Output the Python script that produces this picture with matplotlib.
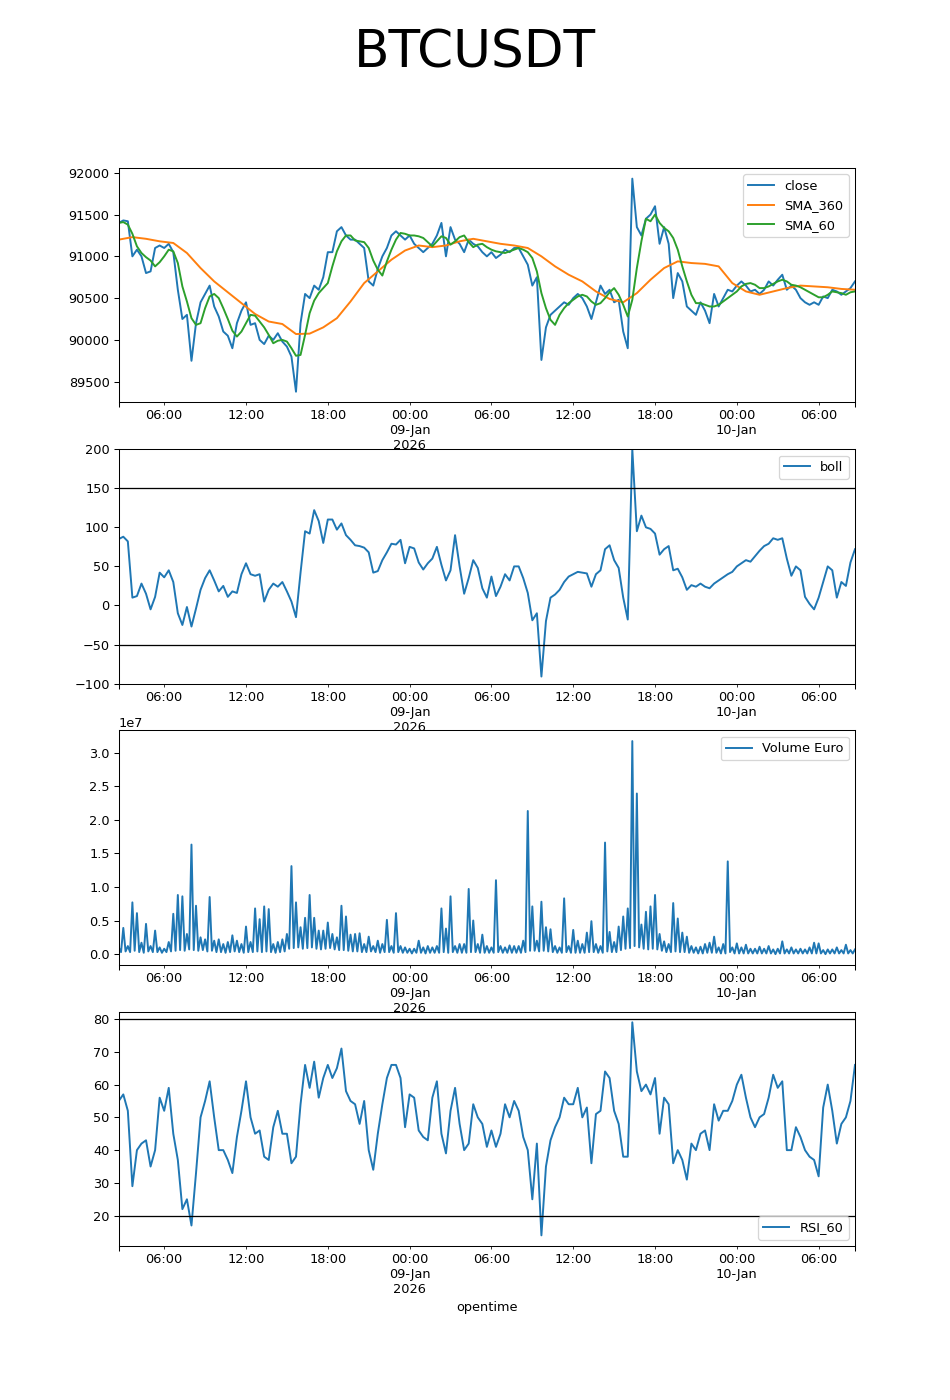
import numpy as np
import pandas as pd
import matplotlib
matplotlib.use('Agg')
import matplotlib.pyplot as plt
import matplotlib.dates as mdates

# valori, un punto ogni 20 minuti a partire da qui
start = '2026-01-08 02:40'

close = [91400, 91430, 91420, 91000, 91080, 91000, 90800, 90820, 91100, 91130,
         91100, 91150, 91050, 90600, 90250, 90300, 89750, 90200, 90450, 90550,
         90650, 90400, 90280, 90100, 90050, 89900, 90200, 90350, 90450, 90180,
         90200, 90000, 89950, 90050, 90000, 90080, 89980, 89920, 89800, 89380,
         90200, 90550, 90500, 90650, 90600, 90750, 91050, 91050, 91300, 91350,
         91250, 91200, 91200, 91150, 91100, 90700, 90650, 90850, 91000, 91100,
         91250, 91300, 91250, 91200, 91250, 91150, 91100, 91050, 91100, 91150,
         91250, 91400, 91000, 91350, 91200, 91150, 91050, 91200, 91150, 91120,
         91050, 91000, 91050, 90980, 91020, 91080, 91050, 91100, 91100, 91000,
         90900, 90650, 90750, 89760, 90150, 90300, 90350, 90400, 90450, 90420,
         90500, 90550, 90500, 90400, 90250, 90450, 90650, 90550, 90600, 90450,
         90480, 90100, 89900, 91930, 91350, 91250, 91450, 91500, 91600, 91150,
         91350, 91150, 90500, 90800, 90700, 90400, 90350, 90300, 90450, 90350,
         90200, 90550, 90400, 90500, 90600, 90580, 90650, 90700, 90650, 90580,
         90600, 90550, 90600, 90700, 90650, 90720, 90780, 90600, 90650, 90600,
         90500, 90450, 90420, 90450, 90420, 90520, 90500, 90600, 90580, 90540,
         90580, 90620, 90700]

sma_60 = [91400, 91410, 91380, 91270, 91120, 91040, 90990, 90950, 90880, 90930,
          91000, 91080, 91060, 90920, 90640, 90460, 90260, 90180, 90200, 90380,
          90520, 90550, 90500, 90380, 90250, 90110, 90040, 90100, 90200, 90300,
          90290, 90220, 90150, 90060, 89960, 89990, 90000, 89980, 89900, 89810,
          89820, 90060, 90320, 90470, 90560, 90620, 90680, 90880, 91060, 91180,
          91250, 91250, 91190, 91180, 91170, 91100, 90950, 90840, 90770, 90940,
          91080, 91200, 91280, 91270, 91250, 91250, 91240, 91220, 91170, 91120,
          91180, 91240, 91220, 91140, 91180, 91230, 91250, 91170, 91110, 91140,
          91150, 91110, 91080, 91060, 91050, 91040, 91060, 91080, 91100, 91080,
          91050, 90980, 90820, 90560, 90380, 90240, 90180, 90300, 90380, 90440,
          90480, 90520, 90540, 90520, 90460, 90420, 90440, 90500, 90570, 90620,
          90540, 90420, 90280, 90480, 90860, 91180, 91450, 91420, 91500, 91400,
          91340, 91300, 91220, 91080, 90880, 90700, 90540, 90440, 90440, 90420,
          90400, 90400, 90420, 90460, 90500, 90540, 90580, 90640, 90670, 90680,
          90660, 90620, 90620, 90640, 90670, 90700, 90720, 90700, 90660, 90650,
          90630, 90600, 90570, 90540, 90510, 90510, 90540, 90580, 90570, 90560,
          90540, 90570, 90580]

# SMA_360: un punto ogni ora
sma_360 = [91200, 91230, 91210, 91180, 91160, 91040, 90860, 90700, 90570, 90440,
           90310, 90220, 90190, 90070, 90075, 90150, 90260, 90460, 90680, 90820,
           90960, 91070, 91130, 91110, 91130, 91180, 91210, 91180, 91150, 91130,
           91100, 91000, 90880, 90780, 90700, 90580, 90490, 90450, 90560, 90720,
           90860, 90940, 90920, 90910, 90880, 90680, 90580, 90540, 90580, 90620,
           90650, 90640, 90630, 90610, 90600]

boll = [85, 88, 82, 10, 12, 28, 15, -5, 11, 42,
        36, 45, 30, -10, -25, -2, -27, -4, 20, 35,
        45, 32, 18, 25, 11, 18, 16, 40, 54, 40,
        38, 40, 5, 20, 28, 24, 30, 18, 5, -15,
        42, 95, 92, 122, 108, 80, 110, 110, 97, 105,
        90, 84, 77, 76, 74, 68, 42, 44, 58, 68,
        79, 78, 84, 54, 75, 73, 55, 46, 54, 60,
        75, 52, 32, 45, 90, 50, 15, 35, 58, 48,
        22, 10, 37, 12, 24, 40, 32, 50, 50, 35,
        16, -19, -10, -91, -20, 10, 14, 20, 30, 37,
        40, 43, 42, 41, 24, 40, 45, 72, 77, 58,
        48, 10, -18, 200, 95, 115, 100, 98, 92, 65,
        72, 76, 45, 47, 36, 20, 26, 24, 28, 24,
        22, 28, 32, 36, 40, 43, 50, 54, 58, 56,
        63, 70, 76, 79, 86, 84, 86, 60, 38, 50,
        45, 11, 2, -5, 10, 30, 50, 45, 10, 30,
        25, 55, 72]

rsi_60 = [55, 57, 52, 29, 40, 42, 43, 35, 40, 56,
          52, 59, 45, 37, 22, 25, 17, 33, 50, 55,
          61, 50, 40, 40, 37, 33, 44, 52, 61, 50,
          45, 46, 38, 37, 47, 52, 45, 45, 36, 38,
          54, 66, 59, 67, 56, 62, 66, 62, 65, 71,
          58, 55, 54, 48, 55, 40, 34, 45, 54, 62,
          66, 66, 62, 47, 57, 56, 46, 44, 43, 56,
          61, 45, 39, 52, 59, 48, 40, 42, 54, 50,
          48, 41, 46, 41, 45, 54, 50, 55, 52, 44,
          40, 25, 42, 14, 35, 43, 47, 50, 56, 54,
          54, 59, 50, 53, 36, 51, 52, 64, 62, 52,
          48, 38, 38, 79, 64, 58, 60, 57, 62, 45,
          56, 54, 36, 40, 37, 31, 42, 40, 45, 46,
          40, 54, 49, 52, 52, 55, 60, 63, 56, 50,
          47, 50, 51, 56, 63, 59, 61, 40, 40, 47,
          44, 40, 38, 37, 32, 53, 60, 52, 42, 48,
          50, 55, 66]

# volume in milioni: massimo ad ogni passo e minimo 10 minuti dopo
vol_peak = [1.0, 3.9, 1.2, 7.7, 6.1, 1.7, 4.5, 1.2, 3.5, 1.0,
            0.8, 1.8, 6.0, 8.8, 8.6, 3.0, 16.3, 7.2, 2.5, 2.2,
            8.5, 2.0, 2.2, 1.5, 1.8, 2.8, 2.0, 1.5, 4.1, 1.8,
            6.8, 5.2, 7.1, 6.7, 1.5, 1.8, 2.2, 3.0, 13.1, 7.7,
            4.0, 5.4, 8.8, 5.4, 3.5, 3.5, 4.7, 3.0, 2.5, 7.2,
            5.6, 2.9, 3.0, 3.1, 1.5, 2.6, 1.2, 2.0, 1.5, 5.1,
            1.2, 6.1, 1.2, 1.0, 0.8, 0.8, 2.0, 1.0, 1.2, 1.0,
            1.2, 6.8, 3.8, 8.6, 1.2, 1.5, 1.5, 9.7, 5.0, 1.5,
            2.9, 1.2, 1.0, 11.0, 1.2, 1.0, 1.3, 1.2, 1.2, 2.0,
            21.3, 7.1, 2.0, 7.8, 4.0, 3.7, 1.2, 1.0, 8.3, 1.2,
            3.6, 2.0, 1.5, 3.2, 4.9, 1.5, 1.2, 16.6, 3.3, 1.8,
            4.1, 5.6, 6.8, 31.7, 23.9, 4.4, 6.3, 7.1, 8.8, 3.0,
            1.9, 1.5, 7.6, 5.3, 3.2, 2.6, 1.2, 1.0, 1.1, 1.5,
            1.7, 2.6, 1.0, 1.5, 13.8, 1.0, 1.6, 1.0, 1.4, 0.8,
            0.8, 1.1, 0.8, 1.2, 0.7, 0.8, 1.9, 0.7, 1.0, 0.7,
            0.8, 0.7, 1.0, 1.7, 1.6, 0.6, 0.7, 0.7, 1.0, 0.6,
            1.4, 0.6, 0.7]

vol_floor = [0.3, 0.4, 0.3, 0.5, 0.3, 0.2, 0.4, 0.3, 0.3, 0.2,
             0.3, 0.4, 0.5, 0.6, 0.5, 0.7, 0.6, 0.5, 0.6, 0.4,
             0.5, 0.3, 0.3, 0.2, 0.3, 0.4, 0.3, 0.2, 0.3, 0.3,
             0.4, 0.3, 0.4, 0.3, 0.2, 0.3, 0.4, 0.8, 0.9, 1.0,
             0.8, 0.9, 1.0, 0.8, 0.7, 0.8, 0.9, 0.7, 0.6, 0.6,
             0.5, 0.4, 0.4, 0.3, 0.3, 0.4, 0.3, 0.2, 0.3, 0.3,
             0.2, 0.3, 0.2, 0.2, 0.1, 0.2, 0.2, 0.1, 0.2, 0.2,
             0.2, 0.3, 0.2, 0.3, 0.2, 0.2, 0.2, 0.3, 0.3, 0.2,
             0.2, 0.2, 0.2, 0.3, 0.2, 0.2, 0.2, 0.2, 0.2, 0.3,
             0.5, 0.5, 0.4, 0.5, 0.4, 0.3, 0.2, 0.2, 0.3, 0.2,
             0.2, 0.2, 0.2, 0.3, 0.3, 0.2, 0.2, 0.4, 0.3, 0.3,
             0.6, 0.8, 0.9, 1.2, 1.0, 0.8, 0.7, 0.8, 0.7, 0.5,
             0.3, 0.3, 0.4, 0.3, 0.3, 0.2, 0.2, 0.1, 0.1, 0.2,
             0.2, 0.2, 0.1, 0.1, 0.3, 0.1, 0.1, 0.1, 0.1, 0.1,
             0.1, 0.1, 0.1, 0.1, 0.0, 0.1, 0.1, 0.1, 0.1, 0.1,
             0.1, 0.1, 0.1, 0.1, 0.1, 0.0, 0.1, 0.1, 0.1, 0.1,
             0.1, 0.1]

# Assi temporali
t = pd.date_range(start, periods=len(close), freq='20min')
t_h = pd.date_range(start, periods=len(sma_360), freq='h')

vol_t = np.empty(len(vol_peak) + len(vol_floor), dtype='datetime64[ns]')
vol_t[0::2] = t.values
vol_t[1::2] = (t[:-1] + pd.Timedelta('10min')).values
vol = np.empty(len(vol_t))
vol[0::2] = vol_peak
vol[1::2] = vol_floor
vol = vol * 1e6

# etichette in stile pandas
ticks = pd.date_range('2026-01-08 06:00', t[-1], freq='6h')
labels = []
year_shown = False
for ts in ticks:
    if ts.hour == 0:
        lab = ts.strftime('%H:%M\n%d-%b')
        if not year_shown:
            lab += '\n' + ts.strftime('%Y')
            year_shown = True
    else:
        lab = ts.strftime('%H:%M')
    labels.append(lab)

dpi = 93
fig, axes = plt.subplots(4, 1, figsize=(950 / dpi, 1400 / dpi), dpi=dpi)
fig.suptitle('BTCUSDT', fontsize=40)

ax = axes[0]
ax.plot(t, close, label='close')
ax.plot(t_h, sma_360, label='SMA_360')
ax.plot(t, sma_60, label='SMA_60')
ax.legend(loc='upper right')

ax = axes[1]
ax.plot(t, boll, label='boll')
ax.axhline(150, color='black', lw=1)
ax.axhline(-50, color='black', lw=1)
ax.set_ylim(-100, 200)
ax.legend(loc='upper right')

ax = axes[2]
ax.plot(vol_t, vol, label='Volume Euro')
ax.legend(loc='upper right')

ax = axes[3]
ax.plot(t, rsi_60, label='RSI_60')
ax.axhline(80, color='black', lw=1)
ax.axhline(20, color='black', lw=1)
ax.legend(loc='lower right')

edges = mdates.date2num([t[0].to_pydatetime(), t[-1].to_pydatetime()])
minor = mdates.date2num(ticks.to_pydatetime())
for ax in axes:
    ax.set_xlim(edges[0], edges[1])
    ax.set_xticks(edges, labels=['', ''])
    ax.set_xticks(minor, labels=labels, minor=True)
    ax.set_xlabel('opentime')

fig.savefig('out.png', dpi=dpi)
